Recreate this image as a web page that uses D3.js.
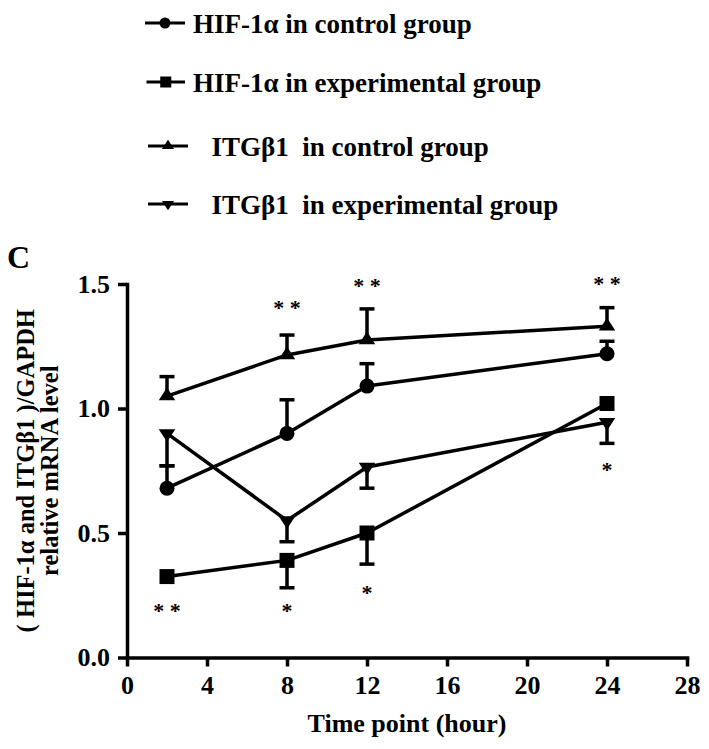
<!DOCTYPE html>
<html>
<head>
<meta charset="utf-8">
<script src="https://cdn.jsdelivr.net/npm/d3@7/dist/d3.min.js"></script>
<style>
  html, body { margin: 0; padding: 0; background: #fff; }
  svg { display: block; }
  text { font-family: "Liberation Serif", "Times New Roman", serif; }
</style>
</head>
<body>
<svg id="chart" width="709" height="749"></svg>
<script>
// ---- data ----
const hours = [2, 8, 12, 24];
const hifControl = [0.68, 0.90, 1.09, 1.22];
const hifControlErr = [0.09, 0.135, 0.09, 0.05];
const hifExp = [0.325, 0.39, 0.50, 1.02];
const hifExpErr = [0, 0.11, 0.125, 0];
const itgControl = [1.05, 1.215, 1.275, 1.33];
const itgControlErr = [0.078, 0.08, 0.125, 0.075];
const itgExp = [0.90, 0.55, 0.765, 0.945];
const itgExpErr = [0.13, 0.085, 0.085, 0.085];

const xTicks = [0, 4, 8, 12, 16, 20, 24, 28];
const yTicks = [0, 0.5, 1.0, 1.5];

const starX = [8, 12, 24, 2, 8, 12, 24];
const starY = [1.415, 1.505, 1.513, 0.197, 0.20, 0.27, 0.766];
const starText = ["* *", "* *", "* *", "* *", "*", "*", "*"];

const legendLabels = [
  "HIF-1\u03b1 in control group",
  "HIF-1\u03b1 in experimental group",
  "ITG\u03b21  in control group",
  "ITG\u03b21  in experimental group"
];

const series = [
  { name: legendLabels[0], values: hifControl, err: hifControlErr, dir: 1, marker: "circle" },
  { name: legendLabels[1], values: hifExp, err: hifExpErr, dir: -1, marker: "square" },
  { name: legendLabels[2], values: itgControl, err: itgControlErr, dir: 1, marker: "up" },
  { name: legendLabels[3], values: itgExp, err: itgExpErr, dir: -1, marker: "down" }
];

// ---- layout ----
const svg = d3.select("#chart");
const x = d3.scaleLinear().domain([0, 28]).range([127, 687]);
const y = d3.scaleLinear().domain([0, 1.5]).range([657.5, 284]);
const LW = 3.5;

function markerPath(type, s) {
  if (type === "circle") return d3.symbol(d3.symbolCircle, Math.PI * s * s / 4)();
  if (type === "square") return d3.symbol(d3.symbolSquare, s * s)();
  const w = s * 1.1, h = s * 0.85;
  if (type === "up") return `M0,${-h * 2 / 3}L${w / 2},${h / 3}L${-w / 2},${h / 3}Z`;
  return `M0,${h * 2 / 3}L${w / 2},${-h / 3}L${-w / 2},${-h / 3}Z`;
}

// axes
const yAxis = d3.axisLeft(y).tickValues(yTicks).tickFormat(d3.format(".1f"))
  .tickSize(9).tickSizeOuter(0).tickPadding(8);
const xAxis = d3.axisBottom(x).tickValues(xTicks).tickFormat(d3.format("d"))
  .tickSize(9).tickSizeOuter(0).tickPadding(9);

const gy = svg.append("g").attr("transform", `translate(${x(0)},0)`).call(yAxis);
const gx = svg.append("g").attr("transform", `translate(0,${y(0)})`).call(xAxis);
[gx, gy].forEach(g => {
  g.select(".domain").attr("stroke", "#000").attr("stroke-width", LW).attr("stroke-linecap", "square");
  g.selectAll(".tick line").attr("stroke", "#000").attr("stroke-width", LW);
  g.selectAll(".tick text").attr("fill", "#000").attr("font-size", 26).attr("font-weight", "bold")
    .attr("font-family", "Liberation Serif, Times New Roman, serif");
});

// lines
const line = d3.line().x((d, i) => x(hours[i])).y(d => y(d));
series.forEach(s => {
  svg.append("path").datum(s.values).attr("d", line)
    .attr("fill", "none").attr("stroke", "#000").attr("stroke-width", LW).attr("stroke-linejoin", "round");
});

// error bars
series.forEach(s => {
  s.values.forEach((v, i) => {
    if (!s.err[i]) return;
    const cx = x(hours[i]);
    const ye = y(v + s.dir * s.err[i]);
    svg.append("line").attr("x1", cx).attr("x2", cx).attr("y1", y(v)).attr("y2", ye)
      .attr("stroke", "#000").attr("stroke-width", LW);
    svg.append("line").attr("x1", cx - 7.5).attr("x2", cx + 7.5).attr("y1", ye).attr("y2", ye)
      .attr("stroke", "#000").attr("stroke-width", LW);
  });
});

// markers
series.forEach(s => {
  s.values.forEach((v, i) => {
    svg.append("path").attr("d", markerPath(s.marker, 15))
      .attr("transform", `translate(${x(hours[i])},${y(v)})`).attr("fill", "#000");
  });
});

// asterisks
starX.forEach((sx, i) => {
  svg.append("text").attr("x", x(sx)).attr("y", y(starY[i]) + 10)
    .attr("text-anchor", "middle").attr("font-size", 22).attr("font-weight", "bold").attr("fill", "#000")
    .style("white-space", "pre").text(starText[i]);
});

// axis titles
svg.append("text").attr("x", (x(0) + x(28)) / 2).attr("y", 732)
  .attr("text-anchor", "middle").attr("font-size", 26).attr("font-weight", "bold")
  .text("Time point (hour)");

const yl = svg.append("text").attr("transform", `translate(34,${(y(0) + y(1.5)) / 2}) rotate(-90)`)
  .attr("text-anchor", "middle").attr("font-size", 24.5).attr("font-weight", "bold");
yl.append("tspan").attr("x", 0).attr("y", 0).style("white-space", "pre").text("( HIF-1\u03b1 and ITG\u03b21 )/GAPDH");
yl.append("tspan").attr("x", 0).attr("y", 24).text("relative mRNA level");

// panel letter
svg.append("text").attr("x", 7).attr("y", 268).attr("font-size", 32).attr("font-weight", "bold").text("C");

// legend
const legendY = [23, 82, 146, 204];
const legendLineX = [[145, 185], [146.5, 185], [148, 188], [148, 188]];
const legendTextX = [193, 193, 211.5, 211.5];
series.forEach((s, i) => {
  const g = svg.append("g");
  const [a, b] = legendLineX[i];
  g.append("line").attr("x1", a).attr("x2", b).attr("y1", legendY[i]).attr("y2", legendY[i])
    .attr("stroke", "#000").attr("stroke-width", 3.2);
  g.append("path").attr("d", markerPath(s.marker, 11))
    .attr("transform", `translate(${(a + b) / 2},${legendY[i]})`).attr("fill", "#000");
  g.append("text").attr("x", legendTextX[i]).attr("y", legendY[i] + 10)
    .attr("font-size", 27).attr("font-weight", "bold").style("white-space", "pre").text(s.name);
});
</script>
</body>
</html>
